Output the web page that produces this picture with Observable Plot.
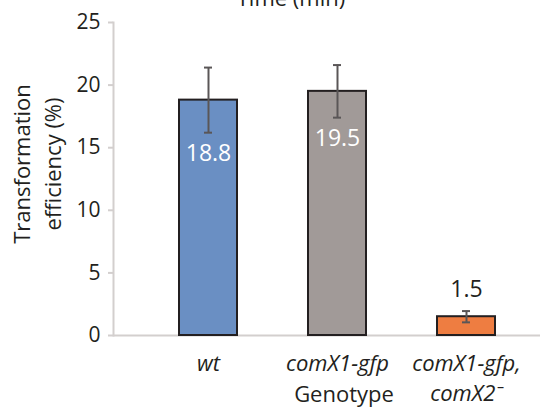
<!DOCTYPE html>
<html>
<head>
<meta charset="utf-8">
<script src="https://cdn.jsdelivr.net/npm/d3@7"></script>
<script src="https://cdn.jsdelivr.net/npm/@observablehq/plot@0.6"></script>
<style>
  html, body { margin: 0; padding: 0; background: #fff; }
</style>
</head>
<body>
<div id="chart"></div>
<script>
// Transformation efficiency per genotype (mean ± error)
const genotypes = ["wt", "comX1-gfp", "comX1-gfp, comX2⁻"];
const efficiency = [18.8, 19.5, 1.5];
const errors = [2.6, 2.1, 0.45];
const barColors = ["#6a8fc3", "#a19a98", "#ee7d41"];
const axisLabels = ["wt", "comX1-gfp", "comX1-gfp,\ncomX2⁻"];
const yTicks = [0, 5, 10, 15, 20, 25];

const data = genotypes.map((g, i) => ({
  genotype: g,
  value: efficiency[i],
  err: errors[i],
  color: barColors[i],
  label: axisLabels[i]
}));

const ink = "#231f20";
const axisGray = "#d3cfce";
const errGray = "#5a5657";

const chart = Plot.plot({
  width: 545,
  height: 412,
  marginTop: 22,
  marginBottom: 77,
  marginLeft: 113,
  marginRight: 5,
  style: { fontFamily: "'Open Sans', 'Noto Sans', sans-serif", background: "#fff", color: ink },
  x: { domain: genotypes, paddingInner: 0.55, paddingOuter: 0.424, align: 0.595, axis: null },
  y: { domain: [0, 25], axis: null },
  color: { type: "identity" },
  marks: [
    Plot.axisY({ ticks: yTicks, tickSize: 5, tickPadding: 8, fontSize: 21, stroke: axisGray, fill: ink, strokeWidth: 2, label: null }),
    Plot.frame({ anchor: "left", stroke: axisGray, strokeWidth: 2 }),
    Plot.ruleY([0], { stroke: axisGray, strokeWidth: 2 }),
    Plot.barY(data, { x: "genotype", y: "value", fill: "color", stroke: ink, strokeWidth: 2 }),
    // error bars
    Plot.ruleX(data, { x: "genotype", y1: d => d.value - d.err, y2: d => d.value + d.err, stroke: errGray, strokeWidth: 2 }),
    Plot.tickY(data, { x: "genotype", y: d => d.value + d.err, insetLeft: 25, insetRight: 25, stroke: errGray, strokeWidth: 2 }),
    Plot.tickY(data, { x: "genotype", y: d => d.value - d.err, insetLeft: 25, insetRight: 25, stroke: errGray, strokeWidth: 2 }),
    // value labels
    Plot.text(data.filter(d => d.value > 5), { x: "genotype", y: d => d.value - d.err, text: d => d.value.toFixed(1), dy: 21, fill: "white", fontSize: 23 }),
    Plot.text(data.filter(d => d.value <= 5), { x: "genotype", y: d => d.value + d.err, text: d => d.value.toFixed(1), dy: -21, fill: ink, fontSize: 23 }),
    // category labels
    Plot.text(data, { x: "genotype", frameAnchor: "bottom", text: "label", lineAnchor: "top", dy: 14, fontSize: 22, fontStyle: "italic", lineHeight: 1.36, fill: ink }),
    // axis titles
    Plot.text(["Genotype"], { text: d => d, frameAnchor: "bottom", lineAnchor: "bottom", dx: 17, dy: 66, fontSize: 22, fill: ink }),
    Plot.text(["Transformation\nefficiency (%)"], { text: d => d, frameAnchor: "left", textAnchor: "middle", lineAnchor: "middle", rotate: -90, dx: -78, dy: -15, fontSize: 22, lineHeight: 1.4, fill: ink }),
    Plot.text(["Time (min)"], { text: d => d, frameAnchor: "top", lineAnchor: "bottom", dx: -36, dy: -17, fontSize: 22, fill: ink })
  ]
});

document.getElementById("chart").appendChild(chart);
</script>
</body>
</html>
